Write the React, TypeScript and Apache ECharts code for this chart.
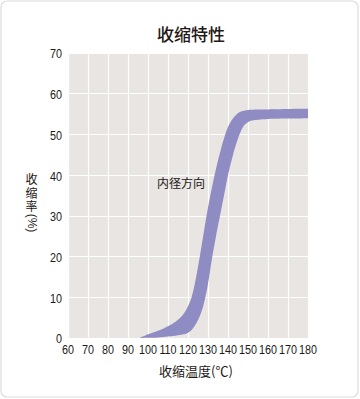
import React, { useEffect, useRef } from "react";
import * as echarts from "echarts";

// Temperature samples (℃)
const temps = [96, 100, 105, 110, 115, 118, 120, 122, 124, 126, 128, 130, 132, 134, 136, 138, 140, 142, 144, 146, 148, 150, 152, 155, 160, 170, 180];
// Upper (left) edge of the shrinkage band (%)
const upperValues = [0, 0.9, 1.8, 2.9, 4.5, 6.1, 7.8, 10.4, 14.8, 20.3, 26.3, 32, 37, 41.5, 45.5, 49, 51.8, 53.6, 54.8, 55.5, 55.8, 56, 56.05, 56.1, 56.15, 56.25, 56.3];
// Lower (right) edge of the shrinkage band (%)
const lowerValues = [0, 0.05, 0.15, 0.35, 0.7, 0.95, 1.3, 2.1, 3.5, 5.5, 8.6, 13.3, 19.5, 25, 30, 35, 40, 44, 47.5, 50.3, 52.2, 53, 53.4, 53.6, 53.8, 53.9, 54];

const xTicks = [60, 70, 80, 90, 100, 110, 120, 130, 140, 150, 160, 170, 180];
const yTicks = [0, 10, 20, 30, 40, 50, 60, 70];
const xMin = 60, xMax = 180, xStep = 10;
const yMin = 0, yMax = 70, yStep = 10;

const titleText = "收缩特性";
const xName = "收缩温度(℃)";
const yNameChars = ["收", "缩", "率"];
const yNameUnit = "(%)";
const bandLabel = "内径方向";

const CJK = "'Noto Sans CJK JP', 'Noto Sans CJK SC', sans-serif";
const NUM = "'Liberation Sans', Arial, sans-serif";
const INK = "#231815";
const BAND = "#8f8bc3";

type P = number[];
function smoothSegments(pts: P[], s: number): string {
  const n = pts.length;
  const cin: P[] = [];
  const cout: P[] = [];
  for (let i = 0; i < n; i++) {
    const p = pts[i];
    if (i === 0 || i === n - 1) {
      cin.push(p);
      cout.push(p);
      continue;
    }
    const a = pts[i - 1];
    const b = pts[i + 1];
    const vx = b[0] - a[0];
    const vy = b[1] - a[1];
    const d0 = Math.hypot(p[0] - a[0], p[1] - a[1]);
    const d1 = Math.hypot(b[0] - p[0], b[1] - p[1]);
    const sum = d0 + d1 || 1;
    cin.push([p[0] - vx * s * (d0 / sum), p[1] - vy * s * (d0 / sum)]);
    cout.push([p[0] + vx * s * (d1 / sum), p[1] + vy * s * (d1 / sum)]);
  }
  let d = "";
  for (let i = 0; i < n - 1; i++) {
    const c1 = cout[i];
    const c2 = cin[i + 1];
    const q = pts[i + 1];
    d += ` C ${c1[0].toFixed(2)} ${c1[1].toFixed(2)} ${c2[0].toFixed(2)} ${c2[1].toFixed(2)} ${q[0].toFixed(2)} ${q[1].toFixed(2)}`;
  }
  return d;
}

export default function App() {
  const ref = useRef<HTMLDivElement>(null);
  useEffect(() => {
    const chart = echarts.init(ref.current!, null, { renderer: "svg" });
    chart.setOption({
      animation: false,
      backgroundColor: "#ffffff",
      grid: {
        left: 68,
        right: 52,
        top: 53,
        bottom: 61,
        show: true,
        backgroundColor: "#e8e5e2",
        borderWidth: 0,
      },
      xAxis: {
        type: "value",
        min: xMin,
        max: xMax,
        interval: xStep,
        axisLine: { show: false },
        axisTick: { show: false },
        axisLabel: { show: false },
        splitLine: { show: true, lineStyle: { color: "#ffffff", width: 1.2 } },
      },
      yAxis: {
        type: "value",
        min: yMin,
        max: yMax,
        interval: yStep,
        axisLine: { show: false },
        axisTick: { show: false },
        axisLabel: { show: false },
        splitLine: { show: true, lineStyle: { color: "#ffffff", width: 1.2 } },
      },
      series: [
        {
          type: "custom",
          coordinateSystem: "cartesian2d",
          clip: true,
          silent: true,
          data: [[temps[0], lowerValues[0]]],
          renderItem: (_params: any, api: any) => {
            const top: P[] = temps.map((t, i) => api.coord([t, upperValues[i]]));
            const bottom: P[] = temps.map((t, i) => api.coord([t, lowerValues[i]])).reverse();
            const d =
              `M ${top[0][0].toFixed(2)} ${top[0][1].toFixed(2)}` +
              smoothSegments(top, 0.4) +
              ` L ${bottom[0][0].toFixed(2)} ${bottom[0][1].toFixed(2)}` +
              smoothSegments(bottom, 0.4) +
              " Z";
            return {
              type: "path",
              shape: { pathData: d },
              style: { fill: BAND, stroke: "none" },
            };
          },
        },
      ],
    });

    const xLabelGraphics = xTicks.map((v) => {
      const p = chart.convertToPixel({ gridIndex: 0 }, [v, yMin]) as number[];
      return {
        type: "text",
        x: p[0],
        y: 349.5,
        scaleX: 0.8,
        style: {
          text: String(v),
          fill: INK,
          font: `13.5px ${NUM}`,
          textAlign: "center",
          textVerticalAlign: "middle",
        },
      };
    });
    const yLabelGraphics = yTicks.map((v) => {
      const p = chart.convertToPixel({ gridIndex: 0 }, [xMin, v]) as number[];
      return {
        type: "text",
        x: 62,
        y: p[1] + 1,
        scaleX: 0.8,
        style: {
          text: String(v),
          fill: INK,
          font: `13.5px ${NUM}`,
          textAlign: "right",
          textVerticalAlign: "middle",
        },
      };
    });
    const yNameGraphics = yNameChars.map((c, i) => ({
      type: "text",
      x: 31.5,
      y: 178.5 + i * 13.5,
      style: {
        text: c,
        fill: INK,
        font: `12px ${CJK}`,
        lineHeight: 12,
        textAlign: "center",
        textVerticalAlign: "middle",
      },
    }));

    chart.setOption({
      graphic: [
        {
          type: "rect",
          shape: { x: 1, y: 1, width: 357, height: 396, r: 6 },
          style: { fill: "none", stroke: "#dcdcdc", lineWidth: 1.2 },
          silent: true,
        },
        {
          type: "text",
          x: 191,
          y: 33,
          style: {
            text: titleText,
            fill: INK,
            font: `500 17px ${CJK}`,
            textAlign: "center",
            textVerticalAlign: "middle",
          },
        },
        {
          type: "text",
          x: 196,
          y: 370,
          style: {
            text: xName,
            fill: INK,
            font: `13px ${CJK}`,
            textAlign: "center",
            textVerticalAlign: "middle",
          },
        },
        ...yNameGraphics,
        {
          type: "text",
          x: 31.5,
          y: 223,
          rotation: -Math.PI / 2,
          style: {
            text: yNameUnit,
            fill: INK,
            font: `12px ${NUM}`,
            lineHeight: 12,
            textAlign: "center",
            textVerticalAlign: "middle",
          },
        },
        {
          type: "text",
          x: 181,
          y: 182.5,
          style: {
            text: bandLabel,
            fill: INK,
            font: `12px ${CJK}`,
            textAlign: "center",
            textVerticalAlign: "middle",
          },
        },
        ...xLabelGraphics,
        ...yLabelGraphics,
      ],
    });
    return () => chart.dispose();
  }, []);
  return (
    <div
      ref={ref}
      style={{ position: "absolute", left: 0, top: 0, width: 360, height: 399 }}
    />
  );
}
